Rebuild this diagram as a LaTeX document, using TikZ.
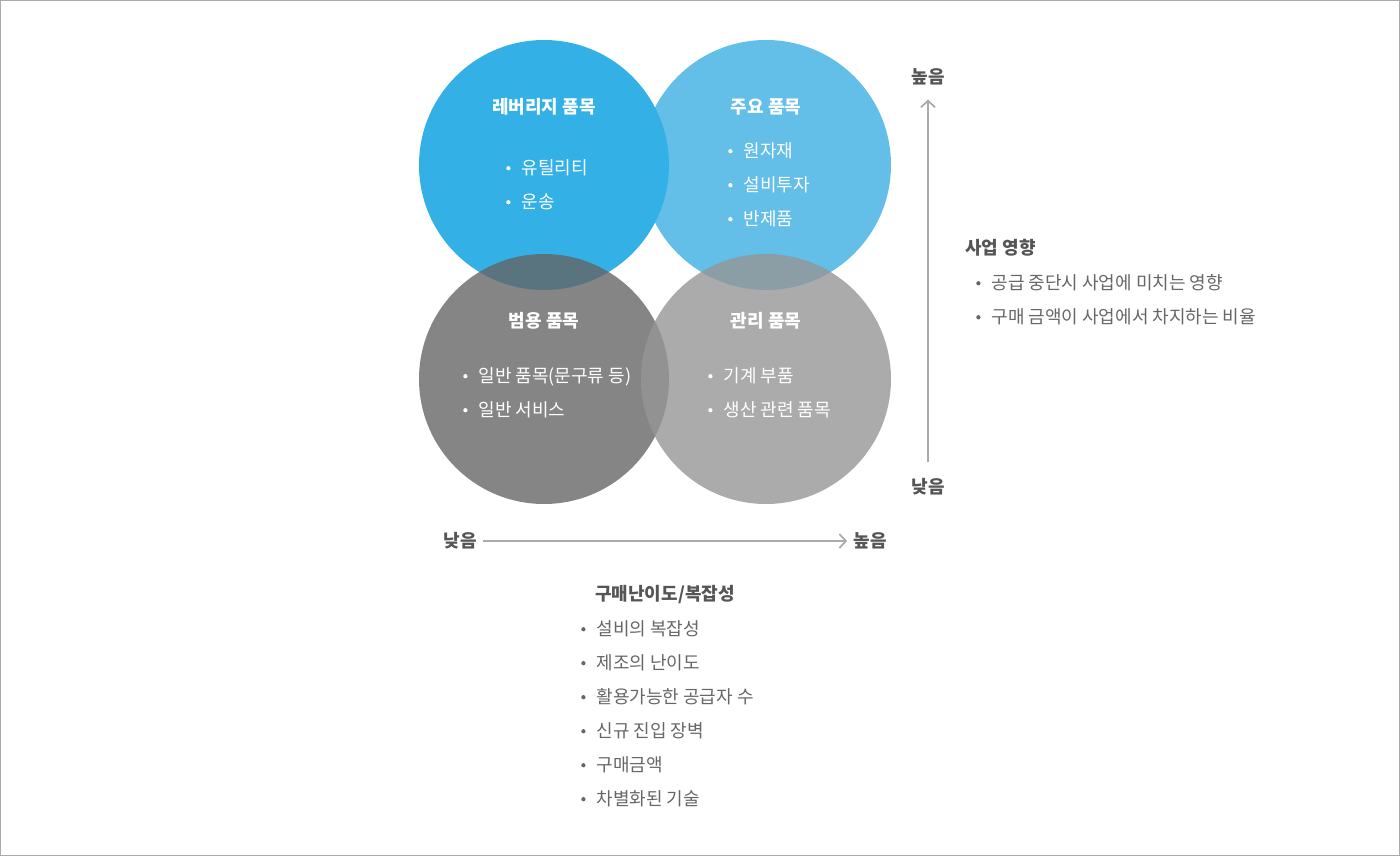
\documentclass[tikz,border=0pt]{standalone}
\usepackage{fontspec}
\setmainfont{Noto Sans CJK KR}
\usetikzlibrary{arrows.meta,positioning}
\definecolor{leverblue}{RGB}{51,176,230}
\definecolor{keyblue}{RGB}{99,191,232}
\definecolor{generalgray}{RGB}{100,100,100}
\definecolor{managegray}{RGB}{150,150,150}
\definecolor{labelgray}{RGB}{85,85,85}
\definecolor{textgray}{RGB}{102,102,102}
\definecolor{linegray}{RGB}{170,170,170}
\newcommand{\bul}{\tikz[baseline=-4.9pt]\fill (0,0) circle (1.6pt);\hspace{8.2pt}}

\begin{document}
\begin{tikzpicture}[x=0.75pt, y=-0.75pt, font=\fontsize{13.5}{25.5}\selectfont,
  quad/.style={circle, minimum size=187.5pt, inner sep=0pt},
  title/.style={font=\fontsize{13.5}{16}\selectfont\bfseries, inner sep=0pt},
  itemlist/.style={align=left, anchor=west, inner sep=0pt},
  axislabel/.style={font=\fontsize{13.5}{16}\selectfont\bfseries, text=labelgray, inner xsep=4.5pt, inner ysep=10.5pt},
  axis/.style={draw=linegray, line width=1.4pt, -{Straight Barb[length=5pt,width=10.5pt,line width=1.3pt]}}]
\useasboundingbox (0,0) rectangle (1400,856);
\draw[linegray, line width=0.75pt] (0.5,0.5) rectangle (1399.5,855.5);

% four quadrants
\node[quad, fill=keyblue] (key) at (766,165) {};
\node[quad, fill=leverblue] (lever) at (544,165) {};
\node[quad, fill=generalgray, fill opacity=0.79] (general) at (544,379) {};
\node[quad, fill=managegray, fill opacity=0.8] (manage) at (766,379) {};

\node[title, text=white, below=44pt of lever.north] (levertitle) {레버리지 품목};
\node[title, text=white, below=44pt of key.north] (keytitle) {주요 품목};
\node[title, text=white, below=44pt of general.north] (generaltitle) {범용 품목};
\node[title, text=white, below=44pt of manage.north] (managetitle) {관리 품목};

\node[itemlist, text=white] (leverlist) at (506,185) {\bul 유틸리티\\\bul 운송};
\node[itemlist, text=white] (keylist) at (728,185) {\bul 원자재\\\bul 설비투자\\\bul 반제품};
\node[itemlist, text=white] (generallist) at (463,393) {\bul 일반 품목(문구류 등)\\\bul 일반 서비스};
\node[itemlist, text=white] (managelist) at (708,393) {\bul 기계 부품\\\bul 생산 관련 품목};

% axes
\node[axislabel] (vhigh) at (928,77) {높음};
\node[axislabel] (vlow) at (928,487) {낮음};
\node[axislabel] (hlow) at (460,541) {낮음};
\node[axislabel] (hhigh) at (870,541) {높음};
\draw[axis, shorten <=1.5pt] (vlow) -- (vhigh);
\draw[axis] (hlow) -- (hhigh);

% axis descriptions
\node[title, text=labelgray, anchor=west] (impacttitle) at (965,248) {사업 영향};
\node[itemlist, text=textgray] (impactlist) at (976,300) {\bul 공급 중단시 사업에 미치는 영향\\\bul 구매 금액이 사업에서 차지하는 비율};
\node[title, text=labelgray, anchor=west] (difftitle) at (595,595) {구매난이도/복잡성};
\node[itemlist, text=textgray] (difflist) at (581,714) {\bul 설비의 복잡성\\\bul 제조의 난이도\\\bul 활용가능한 공급자 수\\\bul 신규 진입 장벽\\\bul 구매금액\\\bul 차별화된 기술};
\end{tikzpicture}
\end{document}
